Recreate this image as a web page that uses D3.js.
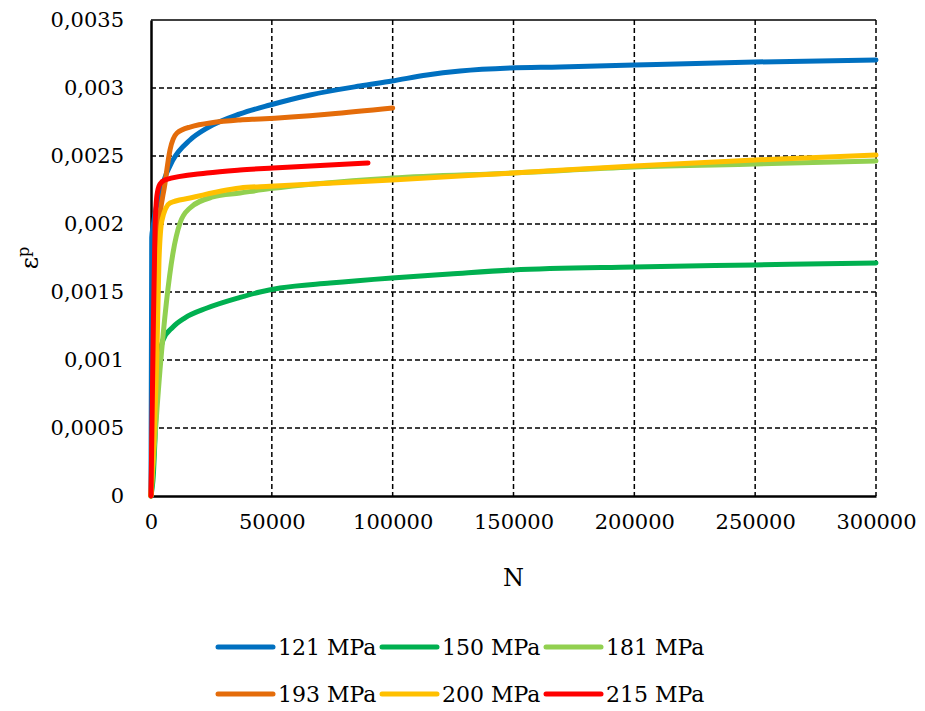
<!DOCTYPE html>
<html>
<head>
<meta charset="utf-8">
<script src="https://cdn.jsdelivr.net/npm/d3@7"></script>
<style>
  body { margin: 0; background: #fff; }
  svg { display: block; }
  text { font-family: "DejaVu Serif", serif; fill: #000; }
</style>
</head>
<body>
<svg id="chart" width="925" height="711"></svg>
<script>
// ---- data ----
const seriesNames = ["121 MPa", "150 MPa", "181 MPa", "193 MPa", "200 MPa", "215 MPa"];
const seriesColors = ["#0070C0", "#00B050", "#92D050", "#E46C0A", "#FFC000", "#FF0000"];

const s121 = [[0,0],[300,0.00190],[830,0.001978],[4970,0.002301],[9100,0.002471],[16140,0.002618],[23170,0.002705],[36830,0.002809],[49250,0.002875],[65790,0.002949],[86480,0.003015],[99720,0.003051],[114200,0.003096],[127900,0.003125],[148600,0.003147],[169200,0.003154],[199900,0.003169],[249900,0.003191],[300000,0.003206]];
const s150 = [[0,0],[830,0.000118],[2900,0.000926],[4970,0.001147],[9100,0.001243],[14070,0.001310],[23170,0.001382],[36830,0.001460],[45100,0.001500],[53380,0.001529],[74070,0.001566],[99720,0.001603],[123700,0.001632],[149800,0.001662],[199900,0.001684],[249900,0.001699],[300000,0.001713]];
const s181 = [[0,0],[3720,0.000926],[9100,0.001787],[12000,0.002007],[16140,0.002118],[25660,0.002199],[36830,0.002228],[49250,0.00226],[99720,0.002338],[149800,0.002375],[199900,0.002419],[249900,0.002441],[300000,0.002463]];
const s193 = [[0,0],[2900,0.00190],[5800,0.002301],[7860,0.002544],[10760,0.002669],[16140,0.002713],[36830,0.002765],[45100,0.002772],[74070,0.002809],[100000,0.002853]];
const s200 = [[0,0],[2480,0.001074],[3310,0.001735],[4550,0.002029],[7860,0.002154],[16140,0.002191],[36830,0.002265],[49250,0.002278],[99720,0.002324],[149800,0.002375],[199900,0.002426],[249900,0.002471],[300000,0.002507]];
const s215 = [[0,0],[830,0.001074],[1650,0.001956],[2480,0.002213],[3720,0.002294],[5800,0.002324],[23170,0.002375],[36830,0.002397],[50480,0.002412],[89800,0.002449]];
const seriesData = [s121, s150, s181, s193, s200, s215];

const xTicks = [0, 50000, 100000, 150000, 200000, 250000, 300000];
const yTicks = [0, 0.0005, 0.001, 0.0015, 0.002, 0.0025, 0.003, 0.0035];
const xTitle = "N";

// ---- layout ----
const svg = d3.select("#chart");
const L = 151, R = 876, T = 20, B = 496;
const x = d3.scaleLinear().domain([0, 300000]).range([L, R]);
const y = d3.scaleLinear().domain([0, 0.0035]).range([B, T]);

const fmtY = d => d === 0 ? "0" : d3.format(".4~f")(d).replace(".", ",");

// grid
const grid = svg.append("g");
grid.selectAll("line.h").data(yTicks.filter(d => d > 0 && d < 0.0035)).join("line")
  .attr("x1", L).attr("x2", R).attr("y1", d => y(d)).attr("y2", d => y(d))
  .attr("stroke", "#000").attr("stroke-width", 1.5).attr("stroke-dasharray", "5,3");
grid.selectAll("line.v").data(xTicks.filter(d => d > 0)).join("line")
  .attr("y1", T).attr("y2", B).attr("x1", d => x(d)).attr("x2", d => x(d))
  .attr("stroke", "#000").attr("stroke-width", 1.5).attr("stroke-dasharray", "5,3");
// top border
svg.append("line").attr("x1", L).attr("x2", R).attr("y1", T).attr("y2", T)
  .attr("stroke", "#000").attr("stroke-width", 1.5);

// axes via d3
const xAxis = svg.append("g").attr("transform", `translate(0,${B})`)
  .call(d3.axisBottom(x).tickValues(xTicks).tickSize(0).tickPadding(18).tickFormat(d3.format("d")));
xAxis.select(".domain").attr("stroke", "#000").attr("stroke-width", 2.5);
xAxis.selectAll("text").style("font-family", "DejaVu Serif").style("font-size", "21px").attr("fill", "#000");

const yAxis = svg.append("g").attr("transform", `translate(${L},0)`)
  .call(d3.axisLeft(y).tickValues(yTicks).tickSize(0).tickPadding(27).tickFormat(fmtY));
yAxis.select(".domain").attr("stroke", "#000").attr("stroke-width", 2.5);
yAxis.selectAll("text").style("font-family", "DejaVu Serif").style("font-size", "21px").attr("fill", "#000");

// lines
const line = d3.line().x(d => x(d[0])).y(d => y(d[1])).curve(d3.curveMonotoneX);
svg.append("g").selectAll("path").data(seriesData).join("path")
  .attr("d", line).attr("fill", "none")
  .attr("stroke", (d, i) => seriesColors[i]).attr("stroke-width", 5)
  .attr("stroke-linecap", "round").attr("stroke-linejoin", "round");

// axis titles
svg.append("text").attr("x", (L + R) / 2).attr("y", 586).attr("text-anchor", "middle")
  .style("font-size", "24px").text(xTitle);
const yt = svg.append("text").attr("transform", "translate(38,258) rotate(-90)")
  .attr("text-anchor", "middle").style("font-size", "24px");
yt.append("tspan").text("ε");
yt.append("tspan").attr("dy", -9).style("font-size", "16px").text("p");

// legend
const legX = [218, 382, 546];
const legY = [647, 694];
const leg = svg.append("g");
seriesNames.forEach((name, i) => {
  const lx = legX[i % 3], ly = legY[Math.floor(i / 3)];
  leg.append("line").attr("x1", lx).attr("x2", lx + 55).attr("y1", ly).attr("y2", ly)
    .attr("stroke", seriesColors[i]).attr("stroke-width", 5).attr("stroke-linecap", "round");
  leg.append("text").attr("x", lx + 60).attr("y", ly + 8).style("font-size", "22px").text(name);
});
</script>
</body>
</html>
